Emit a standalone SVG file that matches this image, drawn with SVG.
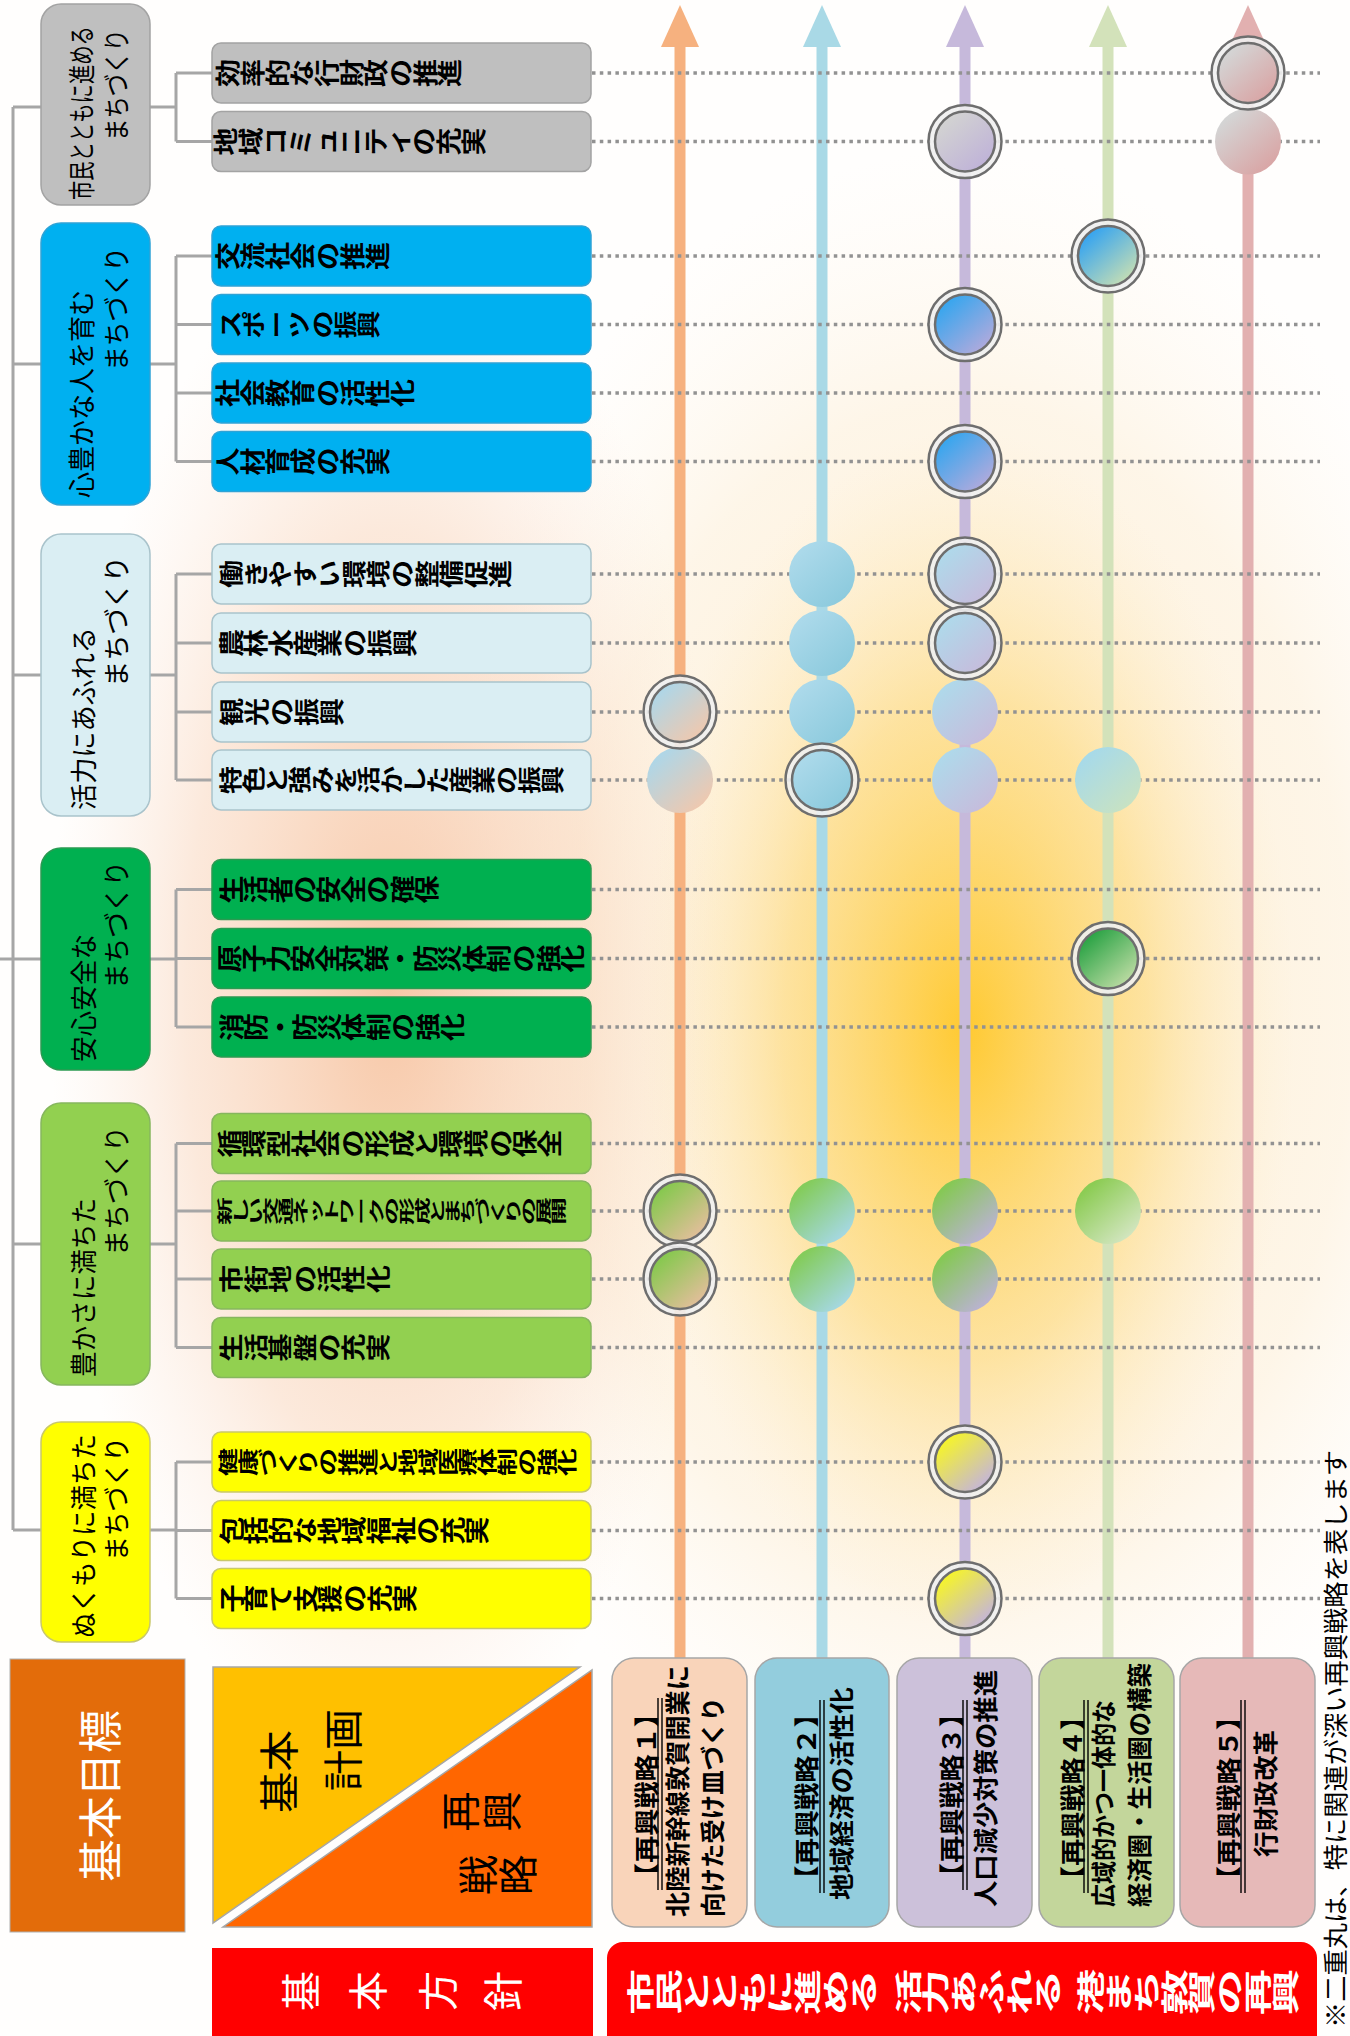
<svg xmlns="http://www.w3.org/2000/svg" width="1350" height="2036" viewBox="0 0 1350 2036">
<style>
text{font-family:"Noto Sans CJK JP","Noto Sans CJK SC",sans-serif;}
.tree{stroke:#A6A6A6;stroke-width:3;fill:none}
.dot{stroke:#929292;stroke-width:3.5;stroke-dasharray:3.5 4.3;fill:none}
.sub{font-size:28px;font-weight:bold;fill:#000}
.gl{font-size:27px;fill:#000}
.h{dominant-baseline:central}
.sl{font-size:25px;font-weight:bold;fill:#000}
.ring{fill:#EFEFEF;fill-opacity:0.9;stroke:#6E6E6E;stroke-width:2.5}
.inner{stroke:#6E6E6E;stroke-width:2.5}
.ul{stroke:#000;stroke-width:1.4}
.sbox{stroke:#A6A6A6;stroke-width:1.5}
</style>
<defs>
<radialGradient id="peach" cx="0.5" cy="0.5" r="0.5"><stop offset="0" stop-color="#F6BE98" stop-opacity="0.85"/><stop offset="0.6" stop-color="#F8CFB2" stop-opacity="0.45"/><stop offset="1" stop-color="#FBE3D3" stop-opacity="0"/></radialGradient>
<radialGradient id="yel" cx="0.5" cy="0.5" r="0.5"><stop offset="0" stop-color="#FFC82A" stop-opacity="0.95"/><stop offset="0.55" stop-color="#FDD979" stop-opacity="0.6"/><stop offset="1" stop-color="#FDEBC4" stop-opacity="0"/></radialGradient>
<radialGradient id="cream" cx="0.5" cy="0.5" r="0.5"><stop offset="0" stop-color="#FDE6BA" stop-opacity="0.8"/><stop offset="0.7" stop-color="#FDF0DA" stop-opacity="0.6"/><stop offset="1" stop-color="#FEF8EE" stop-opacity="0"/></radialGradient>
<linearGradient id="lb_or" x1="0.2" y1="0.15" x2="0.85" y2="0.9"><stop offset="0" stop-color="#B0D6E6"/><stop offset="1" stop-color="#F0C8AE"/></linearGradient>
<linearGradient id="lg_or" x1="0.2" y1="0.15" x2="0.85" y2="0.9"><stop offset="0" stop-color="#88C850"/><stop offset="1" stop-color="#E4BE9C"/></linearGradient>
<linearGradient id="lb_lb" x1="0.2" y1="0.15" x2="0.85" y2="0.9"><stop offset="0" stop-color="#ABD9EA"/><stop offset="1" stop-color="#8CCADD"/></linearGradient>
<linearGradient id="lg_lb" x1="0.2" y1="0.15" x2="0.85" y2="0.9"><stop offset="0" stop-color="#84CC5C"/><stop offset="1" stop-color="#A6D8E6"/></linearGradient>
<linearGradient id="gy_pu" x1="0.2" y1="0.15" x2="0.85" y2="0.9"><stop offset="0" stop-color="#D2D2D2"/><stop offset="1" stop-color="#BFB2D8"/></linearGradient>
<linearGradient id="bl_pu" x1="0.2" y1="0.15" x2="0.85" y2="0.9"><stop offset="0" stop-color="#3AA6EE"/><stop offset="1" stop-color="#B2AADC"/></linearGradient>
<linearGradient id="lb_pu" x1="0.2" y1="0.15" x2="0.85" y2="0.9"><stop offset="0" stop-color="#B0D8EA"/><stop offset="1" stop-color="#C6BCDC"/></linearGradient>
<linearGradient id="lg_pu" x1="0.2" y1="0.15" x2="0.85" y2="0.9"><stop offset="0" stop-color="#86C856"/><stop offset="1" stop-color="#BCB2D6"/></linearGradient>
<linearGradient id="ye_pu" x1="0.2" y1="0.15" x2="0.85" y2="0.9"><stop offset="0" stop-color="#F4F230"/><stop offset="1" stop-color="#C4B4DC"/></linearGradient>
<linearGradient id="bl_gr" x1="0.2" y1="0.15" x2="0.85" y2="0.9"><stop offset="0" stop-color="#3AA6EE"/><stop offset="1" stop-color="#C6DEB4"/></linearGradient>
<linearGradient id="lb_gr" x1="0.2" y1="0.15" x2="0.85" y2="0.9"><stop offset="0" stop-color="#A8DAE8"/><stop offset="1" stop-color="#C8E2C2"/></linearGradient>
<linearGradient id="gr_gr" x1="0.2" y1="0.15" x2="0.85" y2="0.9"><stop offset="0" stop-color="#2FA548"/><stop offset="1" stop-color="#BEDCA4"/></linearGradient>
<linearGradient id="lg_gr" x1="0.2" y1="0.15" x2="0.85" y2="0.9"><stop offset="0" stop-color="#8CCC54"/><stop offset="1" stop-color="#D4E6C2"/></linearGradient>
<linearGradient id="gy_pk" x1="0.2" y1="0.15" x2="0.85" y2="0.9"><stop offset="0" stop-color="#D4D4D4"/><stop offset="1" stop-color="#D9A4A4"/></linearGradient>
</defs>

<g id="background">
<rect x="0" y="0" width="1350" height="2036" fill="#FFFEFD"/>
<ellipse cx="960" cy="1000" rx="560" ry="850" fill="url(#cream)"/>
<ellipse cx="390" cy="1000" rx="340" ry="780" fill="url(#peach)"/>
<ellipse cx="965" cy="1030" rx="330" ry="600" fill="url(#yel)"/>
</g>

<g id="connectors">
<path class="tree" d="M13,107 V1530 M13,107 H41 M13,364 H41 M13,675 H41 M0,959 H41 M13,1244 H41 M13,1530 H41"/>
<path class="tree" d="M150,107 H176 M176,73 V141.5 M176,73 H212 M176,141.5 H212"/>
<path class="tree" d="M150,364 H176 M176,256 V461.5 M176,256 H212 M176,324.5 H212 M176,393 H212 M176,461.5 H212"/>
<path class="tree" d="M150,675 H176 M176,574 V780 M176,574 H212 M176,643 H212 M176,712 H212 M176,780 H212"/>
<path class="tree" d="M150,959 H176 M176,889.5 V1027 M176,889.5 H212 M176,958.5 H212 M176,1027 H212"/>
<path class="tree" d="M150,1244 H176 M176,1143.5 V1347.5 M176,1143.5 H212 M176,1211 H212 M176,1279 H212 M176,1347.5 H212"/>
<path class="tree" d="M150,1530 H176 M176,1462 V1598.5 M176,1462 H212 M176,1530.5 H212 M176,1598.5 H212"/>
</g>

<g id="goal-groups">
<g id="g1"><rect x="41" y="4" width="109" height="201" rx="20" fill="#BFBFBF" stroke="#A3A3A3" stroke-width="1.5"/>
<text class="gl h" transform="translate(80.5,200) rotate(-90) scale(0.716,1)">市民とともに進める</text>
<text class="gl h" transform="translate(115,141) rotate(-90)" textLength="112" lengthAdjust="spacingAndGlyphs">まちづくり</text></g>
<g id="g2"><rect x="41" y="223" width="109" height="282" rx="20" fill="#00B0F0" stroke="#2FA3D6" stroke-width="1.5"/>
<text class="gl h" transform="translate(80,498) rotate(-90)" textLength="208" lengthAdjust="spacingAndGlyphs">心豊かな人を育む</text>
<text class="gl h" transform="translate(115,371) rotate(-90)" textLength="124" lengthAdjust="spacingAndGlyphs">まちづくり</text></g>
<g id="g3"><rect x="41" y="534" width="109" height="282" rx="20" fill="#DAEEF3" stroke="#A9C3CB" stroke-width="1.5"/>
<text class="gl h" transform="translate(82,810) rotate(-90)" textLength="183" lengthAdjust="spacingAndGlyphs">活力にあふれる</text>
<text class="gl h" transform="translate(115,687) rotate(-90)" textLength="131" lengthAdjust="spacingAndGlyphs">まちづくり</text></g>
<g id="g4"><rect x="41" y="848" width="109" height="222" rx="20" fill="#00B050" stroke="#2B9A52" stroke-width="1.5"/>
<text class="gl h" transform="translate(82,1062) rotate(-90)" textLength="128" lengthAdjust="spacingAndGlyphs">安心安全な</text>
<text class="gl h" transform="translate(115,989) rotate(-90)" textLength="128" lengthAdjust="spacingAndGlyphs">まちづくり</text></g>
<g id="g5"><rect x="41" y="1103" width="109" height="282" rx="20" fill="#92D050" stroke="#86B65E" stroke-width="1.5"/>
<text class="gl h" transform="translate(82,1377) rotate(-90)" textLength="179" lengthAdjust="spacingAndGlyphs">豊かさに満ちた</text>
<text class="gl h" transform="translate(115,1256) rotate(-90)" textLength="130" lengthAdjust="spacingAndGlyphs">まちづくり</text></g>
<g id="g6"><rect x="41" y="1422" width="109" height="220" rx="20" fill="#FFFF00" stroke="#C9C86A" stroke-width="1.5"/>
<text class="gl h" transform="translate(82,1638) rotate(-90)" textLength="204" lengthAdjust="spacingAndGlyphs">ぬくもりに満ちた</text>
<text class="gl h" transform="translate(115,1561) rotate(-90)" textLength="124" lengthAdjust="spacingAndGlyphs">まちづくり</text></g>
</g>

<g id="plan-items">
<g id="s1"><rect x="212" y="43" width="379" height="60" rx="9" fill="#BFBFBF" stroke="#A3A3A3" stroke-width="1.5"/><text class="sub" transform="translate(215.5,73) scale(0.882,1)" x="24.6" y="14" rotate="-90">効率的な行財政の推進</text></g>
<g id="s2"><rect x="212" y="111.5" width="379" height="60" rx="9" fill="#BFBFBF" stroke="#A3A3A3" stroke-width="1.5"/><text class="sub" transform="translate(213.6,141.5) scale(0.889,1)" x="24.6" y="14" rotate="-90">地域コミュニティの充実</text></g>
<g id="s3"><rect x="212" y="226" width="379" height="60" rx="9" fill="#00B0F0" stroke="#2FA3D6" stroke-width="1.5"/><text class="sub" transform="translate(215.5,256) scale(0.889,1)" x="24.6" y="14" rotate="-90">交流社会の推進</text></g>
<g id="s4"><rect x="212" y="294.5" width="379" height="60" rx="9" fill="#00B0F0" stroke="#2FA3D6" stroke-width="1.5"/><text class="sub" transform="translate(219,324.5) scale(0.821,1)" x="24.6" y="14" rotate="-90">スポーツの振興</text></g>
<g id="s5"><rect x="212" y="363" width="379" height="60" rx="9" fill="#00B0F0" stroke="#2FA3D6" stroke-width="1.5"/><text class="sub" transform="translate(215.5,393) scale(0.889,1)" x="24.6" y="14" rotate="-90">社会教育の活性化</text></g>
<g id="s6"><rect x="212" y="431.5" width="379" height="60" rx="9" fill="#00B0F0" stroke="#2FA3D6" stroke-width="1.5"/><text class="sub" transform="translate(215.5,461.5) scale(0.889,1)" x="24.6" y="14" rotate="-90">人材育成の充実</text></g>
<g id="s7"><rect x="212" y="544" width="379" height="60" rx="9" fill="#DAEEF3" stroke="#A9C3CB" stroke-width="1.5"/><text class="sub" transform="translate(219,574) scale(0.873,1)" x="24.6" y="14" rotate="-90">働きやすい環境の整備促進</text></g>
<g id="s8"><rect x="212" y="613" width="379" height="60" rx="9" fill="#DAEEF3" stroke="#A9C3CB" stroke-width="1.5"/><text class="sub" transform="translate(219,643) scale(0.882,1)" x="24.6" y="14" rotate="-90">農林水産業の振興</text></g>
<g id="s9"><rect x="212" y="682" width="379" height="60" rx="9" fill="#DAEEF3" stroke="#A9C3CB" stroke-width="1.5"/><text class="sub" transform="translate(219,712) scale(0.891,1)" x="24.6" y="14" rotate="-90">観光の振興</text></g>
<g id="s10"><rect x="212" y="750" width="379" height="60" rx="9" fill="#DAEEF3" stroke="#A9C3CB" stroke-width="1.5"/><text class="sub" transform="translate(219,780) scale(0.821,1)" x="24.6" y="14" rotate="-90">特色と強みを活かした産業の振興</text></g>
<g id="s11"><rect x="212" y="859.5" width="379" height="60" rx="9" fill="#00B050" stroke="#2B9A52" stroke-width="1.5"/><text class="sub" transform="translate(219,889.5) scale(0.875,1)" x="24.6" y="14" rotate="-90">生活者の安全の確保</text></g>
<g id="s12"><rect x="212" y="928.5" width="379" height="60" rx="9" fill="#00B050" stroke="#2B9A52" stroke-width="1.5"/><text class="sub" transform="translate(217,958.5) scale(0.876,1)" x="24.6" y="14" rotate="-90">原子力安全対策・防災体制の強化</text></g>
<g id="s13"><rect x="212" y="997" width="379" height="60" rx="9" fill="#00B050" stroke="#2B9A52" stroke-width="1.5"/><text class="sub" transform="translate(219,1027) scale(0.877,1)" x="24.6" y="14" rotate="-90">消防・防災体制の強化</text></g>
<g id="s14"><rect x="212" y="1113.5" width="379" height="60" rx="9" fill="#92D050" stroke="#86B65E" stroke-width="1.5"/><text class="sub" transform="translate(217,1143.5) scale(0.880,1)" x="24.6" y="14" rotate="-90">循環型社会の形成と環境の保全</text></g>
<g id="s15"><rect x="212" y="1181" width="379" height="60" rx="9" fill="#92D050" stroke="#86B65E" stroke-width="1.5"/><text class="sub" transform="translate(217,1211) scale(0.542,1)" x="24.6" y="14" rotate="-90">新しい交通ネットワークの形成とまちづくりの展開</text></g>
<g id="s16"><rect x="212" y="1249" width="379" height="60" rx="9" fill="#92D050" stroke="#86B65E" stroke-width="1.5"/><text class="sub" transform="translate(219,1279) scale(0.871,1)" x="24.6" y="14" rotate="-90">市街地の活性化</text></g>
<g id="s17"><rect x="212" y="1317.5" width="379" height="60" rx="9" fill="#92D050" stroke="#86B65E" stroke-width="1.5"/><text class="sub" transform="translate(219,1347.5) scale(0.871,1)" x="24.6" y="14" rotate="-90">生活基盤の充実</text></g>
<g id="s18"><rect x="212" y="1432" width="379" height="60" rx="9" fill="#FFFF00" stroke="#C9C86A" stroke-width="1.5"/><text class="sub" transform="translate(219,1462) scale(0.711,1)" x="24.6" y="14" rotate="-90">健康づくりの推進と地域医療体制の強化</text></g>
<g id="s19"><rect x="212" y="1500.5" width="379" height="60" rx="9" fill="#FFFF00" stroke="#C9C86A" stroke-width="1.5"/><text class="sub" transform="translate(219,1530.5) scale(0.878,1)" x="24.6" y="14" rotate="-90">包括的な地域福祉の充実</text></g>
<g id="s20"><rect x="212" y="1568.5" width="379" height="60" rx="9" fill="#FFFF00" stroke="#C9C86A" stroke-width="1.5"/><text class="sub" transform="translate(219,1598.5) scale(0.882,1)" x="24.6" y="14" rotate="-90">子育て支援の充実</text></g>
</g>

<g id="strategy-arrows">
<rect x="674.5" y="45" width="11" height="1614" fill="#F6B17F"/><polygon points="661,47 680,5 699,47" fill="#F6B17F"/>
<rect x="816.5" y="45" width="11" height="1614" fill="#A9D9E6"/><polygon points="803,47 822,5 841,47" fill="#A9D9E6"/>
<rect x="959.5" y="45" width="11" height="1614" fill="#C6B9DB"/><polygon points="946,47 965,5 984,47" fill="#C6B9DB"/>
<rect x="1102.5" y="45" width="11" height="1614" fill="#D3E2BA"/><polygon points="1089,47 1108,5 1127,47" fill="#D3E2BA"/>
<rect x="1242.5" y="45" width="11" height="1614" fill="#E2B0B0"/><polygon points="1229,47 1248,5 1267,47" fill="#E2B0B0"/>
</g>

<g id="guide-lines">
<path class="dot" d="M592,73 H1320 M592,141.5 H1320 M592,256 H1320 M592,324.5 H1320 M592,393 H1320 M592,461.5 H1320 M592,574 H1320 M592,643 H1320 M592,712 H1320 M592,780 H1320 M592,889.5 H1320 M592,958.5 H1320 M592,1027 H1320 M592,1143.5 H1320 M592,1211 H1320 M592,1279 H1320 M592,1347.5 H1320 M592,1462 H1320 M592,1530.5 H1320 M592,1598.5 H1320"/>
</g>

<g id="relation-marks">
<circle cx="680" cy="780" r="33" fill="url(#lb_or)"/>
<circle cx="680" cy="712" r="36.5" class="ring"/><circle cx="680" cy="712" r="30" class="inner" fill="url(#lb_or)"/>
<circle cx="680" cy="1211" r="36.5" class="ring"/><circle cx="680" cy="1211" r="30" class="inner" fill="url(#lg_or)"/>
<circle cx="680" cy="1279" r="36.5" class="ring"/><circle cx="680" cy="1279" r="30" class="inner" fill="url(#lg_or)"/>

<circle cx="822" cy="574" r="33" fill="url(#lb_lb)"/>
<circle cx="822" cy="643" r="33" fill="url(#lb_lb)"/>
<circle cx="822" cy="712" r="33" fill="url(#lb_lb)"/>
<circle cx="822" cy="780" r="36.5" class="ring"/><circle cx="822" cy="780" r="30" class="inner" fill="url(#lb_lb)"/>
<circle cx="822" cy="1211" r="33" fill="url(#lg_lb)"/>
<circle cx="822" cy="1279" r="33" fill="url(#lg_lb)"/>

<circle cx="965" cy="141.5" r="36.5" class="ring"/><circle cx="965" cy="141.5" r="30" class="inner" fill="url(#gy_pu)"/>
<circle cx="965" cy="324.5" r="36.5" class="ring"/><circle cx="965" cy="324.5" r="30" class="inner" fill="url(#bl_pu)"/>
<circle cx="965" cy="461.5" r="36.5" class="ring"/><circle cx="965" cy="461.5" r="30" class="inner" fill="url(#bl_pu)"/>
<circle cx="965" cy="712" r="33" fill="url(#lb_pu)"/>
<circle cx="965" cy="780" r="33" fill="url(#lb_pu)"/>
<circle cx="965" cy="574" r="36.5" class="ring"/><circle cx="965" cy="574" r="30" class="inner" fill="url(#lb_pu)"/>
<circle cx="965" cy="643" r="36.5" class="ring"/><circle cx="965" cy="643" r="30" class="inner" fill="url(#lb_pu)"/>
<circle cx="965" cy="1211" r="33" fill="url(#lg_pu)"/>
<circle cx="965" cy="1279" r="33" fill="url(#lg_pu)"/>
<circle cx="965" cy="1462" r="36.5" class="ring"/><circle cx="965" cy="1462" r="30" class="inner" fill="url(#ye_pu)"/>
<circle cx="965" cy="1598.5" r="36.5" class="ring"/><circle cx="965" cy="1598.5" r="30" class="inner" fill="url(#ye_pu)"/>

<circle cx="1108" cy="256" r="36.5" class="ring"/><circle cx="1108" cy="256" r="30" class="inner" fill="url(#bl_gr)"/>
<circle cx="1108" cy="780" r="33" fill="url(#lb_gr)"/>
<circle cx="1108" cy="958.5" r="36.5" class="ring"/><circle cx="1108" cy="958.5" r="30" class="inner" fill="url(#gr_gr)"/>
<circle cx="1108" cy="1211" r="33" fill="url(#lg_gr)"/>

<circle cx="1248" cy="141.5" r="33" fill="url(#gy_pk)"/>
<circle cx="1248" cy="73" r="36.5" class="ring"/><circle cx="1248" cy="73" r="30" class="inner" fill="url(#gy_pk)"/>
</g>

<g id="strategies">
<g id="st1"><rect class="sbox" x="612" y="1658" width="135" height="269" rx="22" fill="#F9D4BA"/>
<text class="sl h" transform="translate(645,1890) rotate(-90)" textLength="190" lengthAdjust="spacingAndGlyphs">【再興戦略１】</text>
<path class="ul" d="M658,1698 V1890 M662,1698 V1890"/>
<text class="sl h" transform="translate(676,1917) rotate(-90)" textLength="252" lengthAdjust="spacingAndGlyphs">北陸新幹線敦賀開業に</text>
<text class="sl h" transform="translate(711,1917) rotate(-90)" textLength="220" lengthAdjust="spacingAndGlyphs">向けた受け皿づくり</text></g>
<g id="st2"><rect class="sbox" x="755" y="1658" width="134" height="269" rx="22" fill="#93CDDD"/>
<text class="sl h" transform="translate(805,1893) rotate(-90)" textLength="193" lengthAdjust="spacingAndGlyphs">【再興戦略２】</text>
<path class="ul" d="M820,1700 V1893 M824,1700 V1893"/>
<text class="sl h" transform="translate(840,1900) rotate(-90)" textLength="213" lengthAdjust="spacingAndGlyphs">地域経済の活性化</text></g>
<g id="st3"><rect class="sbox" x="897" y="1658" width="135" height="269" rx="22" fill="#CCC1DA"/>
<text class="sl h" transform="translate(950,1890) rotate(-90)" textLength="190" lengthAdjust="spacingAndGlyphs">【再興戦略３】</text>
<path class="ul" d="M963,1700 V1890 M967,1700 V1890"/>
<text class="sl h" transform="translate(984,1907) rotate(-90)" textLength="237" lengthAdjust="spacingAndGlyphs">人口減少対策の推進</text></g>
<g id="st4"><rect class="sbox" x="1039" y="1658" width="135" height="269" rx="22" fill="#C3D69B"/>
<text class="sl h" transform="translate(1071,1893) rotate(-90)" textLength="190" lengthAdjust="spacingAndGlyphs">【再興戦略４】</text>
<path class="ul" d="M1084,1700 V1893 M1088,1700 V1893"/>
<text class="sl h" transform="translate(1102,1907) rotate(-90)" textLength="207" lengthAdjust="spacingAndGlyphs">広域的かつ一体的な</text>
<text class="sl h" transform="translate(1138,1907) rotate(-90)" textLength="244" lengthAdjust="spacingAndGlyphs">経済圏・生活圏の構築</text></g>
<g id="st5"><rect class="sbox" x="1180" y="1658" width="135" height="269" rx="22" fill="#E6B9B8"/>
<text class="sl h" transform="translate(1227,1893) rotate(-90)" textLength="190" lengthAdjust="spacingAndGlyphs">【再興戦略５】</text>
<path class="ul" d="M1241,1700 V1893 M1245,1700 V1893"/>
<text class="sl h" transform="translate(1264,1857) rotate(-90)" textLength="127" lengthAdjust="spacingAndGlyphs">行財政改革</text></g>
</g>

<g id="legend-goal"><rect x="10" y="1659" width="175" height="273" fill="#E36C0A" stroke="#B0B0B0" stroke-width="1"/>
<text class="h" transform="translate(98,1882) rotate(-90)" font-size="44" fill="#FFFFFF" textLength="172" lengthAdjust="spacingAndGlyphs">基本目標</text></g>

<g id="legend-plan-strategy">
<polygon points="213,1667 580,1667 213,1923" fill="#FFC000" stroke="#A6A6A6" stroke-width="1.5"/>
<polygon points="592,1670 592,1927 223,1927" fill="#FF6600" stroke="#A6A6A6" stroke-width="1.5"/>
<text class="h" transform="translate(277,1813) rotate(-90)" font-size="40" fill="#000" textLength="83" lengthAdjust="spacingAndGlyphs">基本</text>
<text class="h" transform="translate(341,1791) rotate(-90)" font-size="40" fill="#000" textLength="82" lengthAdjust="spacingAndGlyphs">計画</text>
<text font-size="40" fill="#000" x="475.2 517.2" y="1831.5" rotate="-90">再興</text>
<text font-size="40" fill="#000" x="492.7 533.2" y="1895" rotate="-90">戦略</text>
</g>

<g id="legend-policy"><rect x="212" y="1948" width="381" height="100" fill="#FF0000"/>
<text font-size="40" fill="#FFFFFF" x="315.7 383.2 452.7 518.2" y="2011" rotate="-90">基本方針</text></g>

<g id="policy"><rect x="607" y="1942" width="710" height="120" rx="16" fill="#FF0000"/>
<text font-size="46" font-weight="bold" fill="#FFFFFF" transform="translate(627,1992) scale(0.604,1)" x="40.5" y="23" rotate="-90">市民とともに進める</text>
<text font-size="46" font-weight="bold" fill="#FFFFFF" transform="translate(894,1992) scale(0.605,1)" x="40.5" y="23" rotate="-90">活力あふれる</text>
<text font-size="46" font-weight="bold" fill="#FFFFFF" transform="translate(1077,1992) scale(0.603,1)" x="40.5" y="23" rotate="-90">港まち敦賀の再興</text></g>

<g id="note"><text class="h" transform="translate(1334,2028) rotate(-90)" font-size="25" fill="#000" textLength="578" lengthAdjust="spacingAndGlyphs">※二重丸は、特に関連が深い再興戦略を表します</text></g>
</svg>
